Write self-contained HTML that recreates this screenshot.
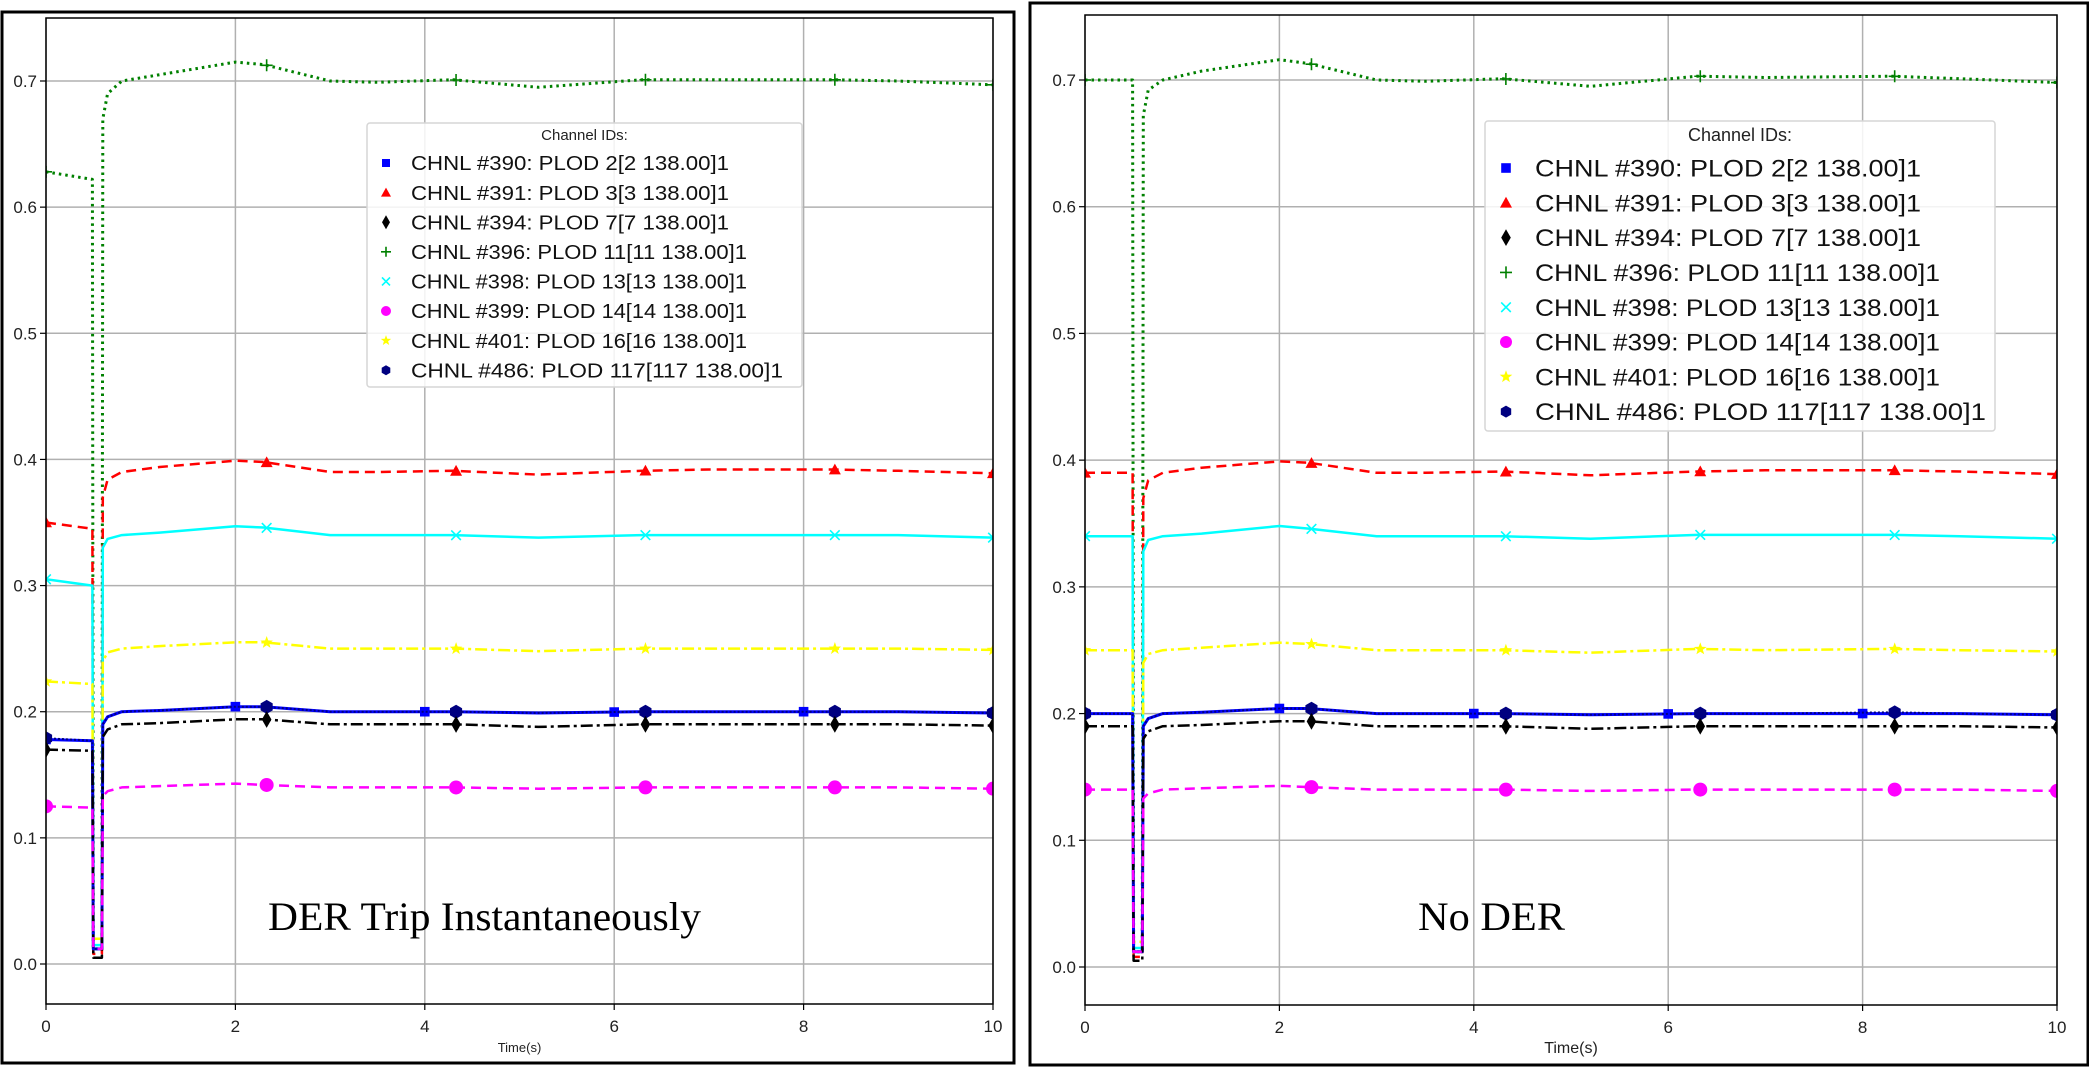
<!DOCTYPE html>
<html><head><meta charset="utf-8"><style>
html,body{margin:0;padding:0;background:#fff;}
svg{display:block;font-family:"Liberation Sans","DejaVu Sans",sans-serif;}
</style></head><body>
<svg id="fig" width="2089" height="1068" viewBox="0 0 2089 1068" xmlns="http://www.w3.org/2000/svg">
<rect x="0" y="0" width="2089" height="1068" fill="#fff"/>
<rect x="2" y="12" width="1012" height="1051" fill="none" stroke="#000" stroke-width="3"/>
<rect x="1030" y="3" width="1058" height="1062" fill="none" stroke="#000" stroke-width="3"/>
<g id="left"></g>
<g id="right"></g>
</svg>
<script>
const times = [0, 0.49, 0.5, 0.59, 0.6, 0.65, 0.8, 1.2, 2.0, 2.3, 3.0, 3.5, 4.3, 5.2, 6.3, 7.0, 8.3, 9.0, 10];
const seriesNames = ["CHNL #390: PLOD 2[2 138.00]1","CHNL #391: PLOD 3[3 138.00]1","CHNL #394: PLOD 7[7 138.00]1","CHNL #396: PLOD 11[11 138.00]1","CHNL #398: PLOD 13[13 138.00]1","CHNL #399: PLOD 14[14 138.00]1","CHNL #401: PLOD 16[16 138.00]1","CHNL #486: PLOD 117[117 138.00]1"];
const yTicks = [0.0,0.1,0.2,0.3,0.4,0.5,0.6,0.7];
const yTickLabels = ["0.0","0.1","0.2","0.3","0.4","0.5","0.6","0.7"];
const xTicks = [0,2,4,6,8,10];
const xTickLabels = ["0","2","4","6","8","10"];
// Left panel (DER trip instantaneously)
const leftS390 = [0.178,0.177,0.012,0.012,0.19,0.196,0.200,0.201,0.204,0.204,0.200,0.200,0.200,0.199,0.200,0.200,0.200,0.200,0.199];
const leftS391 = [0.350,0.345,0.008,0.008,0.370,0.384,0.390,0.394,0.399,0.398,0.390,0.390,0.391,0.388,0.391,0.392,0.392,0.391,0.389];
const leftS394 = [0.170,0.169,0.005,0.005,0.180,0.186,0.190,0.191,0.194,0.194,0.190,0.190,0.190,0.188,0.190,0.190,0.190,0.190,0.189];
const leftS396 = [0.628,0.622,0.012,0.012,0.670,0.690,0.700,0.705,0.715,0.713,0.700,0.699,0.701,0.695,0.701,0.701,0.701,0.700,0.697];
const leftS398 = [0.305,0.300,0.015,0.015,0.330,0.337,0.340,0.342,0.347,0.346,0.340,0.340,0.340,0.338,0.340,0.340,0.340,0.340,0.338];
const leftS399 = [0.125,0.124,0.012,0.012,0.133,0.137,0.140,0.141,0.143,0.142,0.140,0.140,0.140,0.139,0.140,0.140,0.140,0.140,0.139];
const leftS401 = [0.224,0.222,0.020,0.020,0.240,0.247,0.250,0.252,0.255,0.255,0.250,0.250,0.250,0.248,0.250,0.250,0.250,0.250,0.249];
const leftS486 = [0.179,0.177,0.012,0.012,0.19,0.196,0.200,0.201,0.204,0.204,0.200,0.200,0.200,0.199,0.200,0.200,0.200,0.200,0.199];
// Right panel (No DER)
const rightS390 = [0.200,0.200,0.012,0.012,0.19,0.196,0.200,0.201,0.204,0.204,0.200,0.200,0.200,0.199,0.200,0.200,0.200,0.200,0.199];
const rightS391 = [0.390,0.390,0.008,0.008,0.370,0.384,0.390,0.394,0.399,0.398,0.390,0.390,0.391,0.388,0.391,0.392,0.392,0.391,0.389];
const rightS394 = [0.190,0.190,0.005,0.005,0.180,0.186,0.190,0.191,0.194,0.194,0.190,0.190,0.190,0.188,0.190,0.190,0.190,0.190,0.189];
const rightS396 = [0.700,0.700,0.012,0.012,0.672,0.692,0.700,0.707,0.716,0.713,0.700,0.699,0.701,0.695,0.703,0.702,0.703,0.701,0.698];
const rightS398 = [0.340,0.340,0.015,0.015,0.328,0.337,0.340,0.342,0.348,0.346,0.340,0.340,0.340,0.338,0.341,0.341,0.341,0.340,0.338];
const rightS399 = [0.140,0.140,0.012,0.012,0.133,0.137,0.140,0.141,0.143,0.142,0.140,0.140,0.140,0.139,0.140,0.140,0.140,0.140,0.139];
const rightS401 = [0.250,0.250,0.020,0.020,0.240,0.247,0.250,0.252,0.256,0.255,0.250,0.250,0.250,0.248,0.251,0.250,0.251,0.250,0.249];
const rightS486 = [0.200,0.200,0.012,0.012,0.19,0.196,0.200,0.201,0.204,0.204,0.200,0.200,0.200,0.199,0.200,0.200,0.201,0.200,0.199];
const markTimesA = [0, 2, 4, 6, 8, 10];
const markTimesB = [0, 2.33, 4.33, 6.33, 8.33, 10];

const NS="http://www.w3.org/2000/svg";
function mk(tag, attrs, parent){const e=document.createElementNS(NS,tag);for(const k in attrs)e.setAttribute(k,attrs[k]);parent.appendChild(e);return e;}

const styles = [
 {color:"#0000ff",dash:"",w:3,m:"square",mt:markTimesA},
 {color:"#ff0000",dash:"10,6",w:2.5,m:"tri",mt:markTimesB},
 {color:"#000000",dash:"12,4,3,4",w:2.5,m:"diamond",mt:markTimesB},
 {color:"#008000",dash:"2.5,4",w:3,m:"plus",mt:markTimesB},
 {color:"#00ffff",dash:"",w:2.5,m:"x",mt:markTimesB},
 {color:"#ff00ff",dash:"10,6",w:2.5,m:"circle",mt:markTimesB},
 {color:"#ffff00",dash:"12,4,3,4",w:2.5,m:"star",mt:markTimesB},
 {color:"#000080",dash:"2,2",w:2,m:"hex",mt:markTimesB}
];

function marker(g,type,x,y,color,s){
  let e;
  if(type==="square") e=mk("rect",{x:x-s*0.8,y:y-s*0.8,width:s*1.6,height:s*1.6,fill:color},g);
  else if(type==="tri") e=mk("polygon",{points:`${x},${y-s} ${x+s},${y+s*0.8} ${x-s},${y+s*0.8}`,fill:color},g);
  else if(type==="diamond") e=mk("polygon",{points:`${x},${y-s*1.4} ${x+s*0.8},${y} ${x},${y+s*1.4} ${x-s*0.8},${y}`,fill:color},g);
  else if(type==="plus") e=mk("path",{d:`M${x-s} ${y}H${x+s}M${x} ${y-s}V${y+s}`,stroke:color,"stroke-width":1.6,fill:"none"},g);
  else if(type==="x") e=mk("path",{d:`M${x-s*0.8} ${y-s*0.8}L${x+s*0.8} ${y+s*0.8}M${x+s*0.8} ${y-s*0.8}L${x-s*0.8} ${y+s*0.8}`,stroke:color,"stroke-width":1.6,fill:"none"},g);
  else if(type==="circle") e=mk("circle",{cx:x,cy:y,r:s,fill:color},g);
  else if(type==="star"){let p=[];for(let i=0;i<10;i++){const r=i%2?s*0.45:s*1.1;const a=-Math.PI/2+i*Math.PI/5;p.push((x+r*Math.cos(a)).toFixed(1)+","+(y+r*Math.sin(a)).toFixed(1));}e=mk("polygon",{points:p.join(" "),fill:color},g);}
  else {let p=[];for(let i=0;i<6;i++){const a=Math.PI/6+i*Math.PI/3;p.push((x+s*Math.cos(a)).toFixed(1)+","+(y+s*Math.sin(a)).toFixed(1));}e=mk("polygon",{points:p.join(" "),fill:color},g);}
  return e;
}
function interp(vals,t){for(let i=0;i<times.length-1;i++){if(t>=times[i]&&t<=times[i+1]){const f=(t-times[i])/(times[i+1]-times[i]||1);return vals[i]+f*(vals[i+1]-vals[i]);}}return vals[vals.length-1];}

function drawPanel(g, cfg, series){
  const xs=t=>cfg.x0+(cfg.x10-cfg.x0)*t/10;
  const ys=v=>cfg.y0-(cfg.y0-cfg.y07)*v/0.7;
  const clipId=cfg.id+"-clip";
  const defs=mk("defs",{},g);
  const cp=mk("clipPath",{id:clipId},defs);
  mk("rect",{x:cfg.x0,y:cfg.top,width:cfg.x10-cfg.x0,height:cfg.bottom-cfg.top},cp);
  const grid=mk("g",{},g);
  
  
  xTicks.forEach((t,i)=>{
    mk("line",{x1:xs(t),x2:xs(t),y1:cfg.top,y2:cfg.bottom,stroke:"#b0b0b0","stroke-width":1.5},grid);
    mk("line",{x1:xs(t),x2:xs(t),y1:cfg.bottom,y2:cfg.bottom+6,stroke:"#000","stroke-width":1.2},grid);
    const tx=mk("text",{x:xs(t),y:cfg.bottom+28,"text-anchor":"middle","font-size":17,fill:"#222"},g);
    tx.textContent=xTickLabels[i];
    
    
  });
  yTicks.forEach((v,i)=>{
    mk("line",{x1:cfg.x0,x2:cfg.x10,y1:ys(v),y2:ys(v),stroke:"#b0b0b0","stroke-width":1.5},grid);
    mk("line",{x1:cfg.x0-6,x2:cfg.x0,y1:ys(v),y2:ys(v),stroke:"#000","stroke-width":1.2},grid);
    const tx=mk("text",{x:cfg.x0-9,y:ys(v)+6,"text-anchor":"end","font-size":17,fill:"#222"},g);
    tx.textContent=yTickLabels[i];
    
    
  });
  const xl=mk("text",{x:(cfg.x0+cfg.x10)/2,y:cfg.bottom+48,"text-anchor":"middle","font-size":cfg.xlabelSize,fill:"#222"},g);
  xl.textContent="Time(s)";
  
  
  const plot=mk("g",{"clip-path":`url(#${clipId})`},g);
  const order=[3,1,4,6,0,7,2,5];
  order.forEach(si=>{
    const st=styles[si], vals=series[si];
    const pts=times.map((t,i)=>xs(t).toFixed(1)+","+ys(vals[i]).toFixed(1)).join(" ");
    const l=mk("polyline",{points:pts,fill:"none",stroke:st.color,"stroke-width":st.w,"stroke-dasharray":st.dash,"stroke-linejoin":"round"},plot);
    
    
    st.mt.forEach(t=>{
      const m=marker(plot,st.m,xs(t),ys(interp(vals,t)),st.color,si===5||si===7?7:6);
      
      
    });
  });
  mk("rect",{x:cfg.x0,y:cfg.top,width:cfg.x10-cfg.x0,height:cfg.bottom-cfg.top,fill:"none",stroke:"#000","stroke-width":1.5},g);
  const L=cfg.leg;
  const lg=mk("g",{},g);
  
  
  mk("rect",{x:L.x,y:L.y,width:L.w,height:L.h,rx:3,fill:"#fff","fill-opacity":0.85,stroke:"#d6d6d6","stroke-width":1.5},lg);
  const tt=mk("text",{x:L.x+L.w/2,y:L.y+L.titleY,"text-anchor":"middle","font-size":L.tfs,fill:"#222"},lg);
  tt.textContent="Channel IDs:";
  
  
  seriesNames.forEach((n,i)=>{
    const cy=L.y+L.first+i*L.step;
    const m=marker(lg,styles[i].m,L.mx,cy,styles[i].color,L.ms);
    
    
    const t=mk("text",{x:L.tx,y:cy+L.fs*0.36,"font-size":L.fs,fill:"#111",textLength:L.tl[i],lengthAdjust:"spacingAndGlyphs"},lg);
    t.textContent=n;
    
    
  });
  const ann=mk("text",{x:cfg.ann.x,y:930,"font-family":"Liberation Serif, serif","font-size":40,fill:"#000",textLength:cfg.ann.w,lengthAdjust:"spacingAndGlyphs"},g);
  ann.textContent=cfg.ann.text;
  
  
}

const tlL=[318,318,318,336,336,336,336,372];
const tlR=[386,386,386,405,405,405,405,451];
drawPanel(document.getElementById("left"),
 {id:"L",x0:46,x10:993,y0:964,y07:81,top:18,bottom:1004,xlabelSize:13,
  leg:{x:367,y:123,w:435,h:264,titleY:17,tfs:15,first:40,step:29.6,mx:386,ms:5,tx:411,fs:20,tl:tlL},
  ann:{x:268,w:433,text:"DER Trip Instantaneously"}},
 [leftS390,leftS391,leftS394,leftS396,leftS398,leftS399,leftS401,leftS486]);
drawPanel(document.getElementById("right"),
 {id:"R",x0:1085,x10:2057,y0:967,y07:80,top:15,bottom:1005,xlabelSize:16,
  leg:{x:1485,y:121,w:510,h:310,titleY:20,tfs:18,first:47,step:34.8,mx:1506,ms:6,tx:1535,fs:24,tl:tlR},
  ann:{x:1418,w:147,text:"No DER"}},
 [rightS390,rightS391,rightS394,rightS396,rightS398,rightS399,rightS401,rightS486]);
</script>
</body></html>
